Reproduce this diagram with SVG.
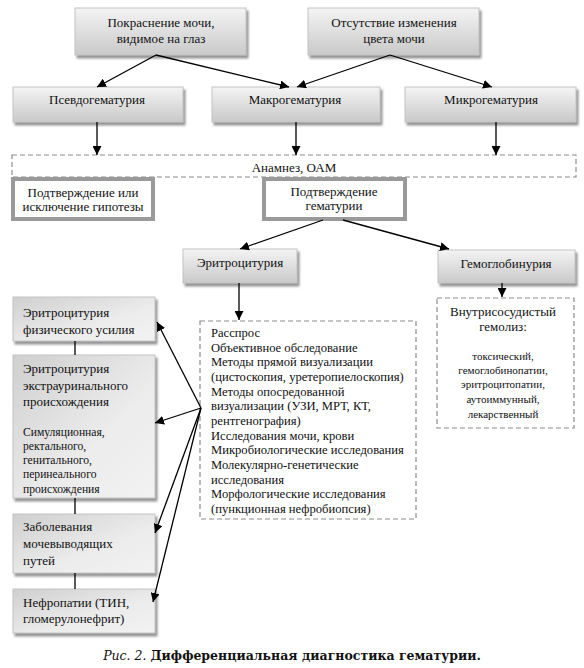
<svg xmlns="http://www.w3.org/2000/svg" width="584" height="668" viewBox="0 0 584 668">
<defs>
<linearGradient id="gv" x1="0" y1="0" x2="0" y2="1">
<stop offset="0" stop-color="#f4f4f4"/>
<stop offset="1" stop-color="#c9c9c9"/>
</linearGradient>
<linearGradient id="gd" x1="0" y1="0" x2="1" y2="1">
<stop offset="0" stop-color="#cfcfcf"/>
<stop offset="0.6" stop-color="#ececec"/>
<stop offset="1" stop-color="#f2f2f2"/>
</linearGradient>
<filter id="sh" x="-10%" y="-10%" width="130%" height="140%">
<feDropShadow dx="2" dy="3" stdDeviation="1.2" flood-color="#7a7a7a" flood-opacity="0.8"/>
</filter>
<marker id="ah" viewBox="0 0 10 10" refX="10" refY="5" markerWidth="9" markerHeight="9" markerUnits="userSpaceOnUse" orient="auto">
<path d="M0,0 L10,5 L0,10 z" fill="#000"/>
</marker>
</defs>
<style>
.g{fill:url(#gv);stroke:#c4c4c4;stroke-width:1;filter:url(#sh)}
.gl{fill:url(#gd);stroke:#c4c4c4;stroke-width:1;filter:url(#sh)}
.dash{fill:#fff;stroke:#8c8c8c;stroke-width:1.2;stroke-dasharray:5,3}
.thick{fill:#fff;stroke:#9a9a9a;stroke-width:4}
text{fill:#111}
.t{font-size:13px}
.tm{font-size:12.6px}
.s{font-size:11.6px}
.xs{font-size:11px}
.m{text-anchor:middle}
.c{stroke:#000;stroke-width:1.3;fill:none}
.ca{stroke:#000;stroke-width:1.3;fill:none;marker-end:url(#ah)}
</style>
<rect width="584" height="668" fill="#fff"/>
<g font-family="Liberation Serif, Times New Roman, serif">
<g id="n-pokrasnenie">
<rect class="g" x="75" y="8" width="171" height="47"/>
<text class="t m" x="161" y="27">Покраснение мочи,</text>
<text class="t m" x="161" y="43">видимое на глаз</text>
</g>
<g id="n-otsutstvie">
<rect class="g" x="308" y="8" width="171" height="47"/>
<text class="t m" x="394" y="27">Отсутствие изменения</text>
<text class="t m" x="394" y="43">цвета мочи</text>
</g>
<g id="n-psevdo">
<rect class="g" x="13" y="87" width="170" height="35"/>
<text class="t m" x="97" y="104">Псевдогематурия</text>
</g>
<g id="n-makro">
<rect class="g" x="212" y="87" width="168" height="35"/>
<text class="t m" x="295" y="104">Макрогематурия</text>
</g>
<g id="n-mikro">
<rect class="g" x="405" y="87" width="171" height="35"/>
<text class="t m" x="491" y="104">Микрогематурия</text>
</g>
<g id="n-anamnez">
<rect class="dash" x="12" y="155" width="564" height="22"/>
<text class="t m" x="294" y="172">Анамнез, ОАМ</text>
</g>
<g id="n-gipoteza">
<rect class="thick" x="13" y="179" width="140" height="40"/>
<text class="t m" x="83" y="197">Подтверждение или</text>
<text class="t m" x="83" y="211">исключение гипотезы</text>
</g>
<g id="n-podtv">
<rect class="thick" x="264" y="179" width="141" height="40"/>
<text class="t m" x="334" y="196">Подтверждение</text>
<text class="t m" x="334" y="210">гематурии</text>
</g>
<g id="n-eritro">
<rect class="g" x="183" y="249" width="114" height="34"/>
<text class="t m" x="240" y="267">Эритроцитурия</text>
</g>
<g id="n-gemoglob">
<rect class="g" x="438" y="250" width="137" height="33"/>
<text class="t m" x="506" y="268">Гемоглобинурия</text>
</g>
<g id="n-fiz">
<rect class="gl" x="13" y="297" width="142" height="44"/>
<text class="t" x="23" y="317">Эритроцитурия</text>
<text class="t" x="23" y="334">физического усилия</text>
</g>
<g id="n-ekstra">
<rect class="gl" x="13" y="355" width="142" height="143"/>
<text class="t" x="23" y="373">Эритроцитурия</text>
<text class="t" x="23" y="390">экстрауринального</text>
<text class="t" x="23" y="406">происхождения</text>
<text class="s" x="23" y="436">Симуляционная,</text>
<text class="s" x="23" y="450">ректального,</text>
<text class="s" x="23" y="464">генитального,</text>
<text class="s" x="23" y="478">перинеального</text>
<text class="s" x="23" y="493">происхождения</text>
</g>
<g id="n-zabol">
<rect class="gl" x="13" y="514" width="142" height="59"/>
<text class="t" x="23" y="531">Заболевания</text>
<text class="t" x="23" y="548">мочевыводящих</text>
<text class="t" x="23" y="565">путей</text>
</g>
<g id="n-nefro">
<rect class="gl" x="13" y="589" width="142" height="44"/>
<text class="t" x="23" y="607">Нефропатии (ТИН,</text>
<text class="t" x="23" y="623">гломерулонефрит)</text>
</g>
<g id="n-metody">
<rect class="dash" x="200" y="321" width="216" height="198"/>
<text class="tm" x="211" y="337">Расспрос</text>
<text class="tm" x="211" y="351.7">Объективное обследование</text>
<text class="tm" x="211" y="366.3">Методы прямой визуализации</text>
<text class="tm" x="211" y="381">(цистоскопия, уретеропиелоскопия)</text>
<text class="tm" x="211" y="395.7">Методы опосредованной</text>
<text class="tm" x="211" y="410.3">визуализации (УЗИ, МРТ, КТ,</text>
<text class="tm" x="211" y="425">рентгенография)</text>
<text class="tm" x="211" y="439.7">Исследования мочи, крови</text>
<text class="tm" x="211" y="454.3">Микробиологические исследования</text>
<text class="tm" x="211" y="469">Молекулярно-генетические</text>
<text class="tm" x="211" y="483.7">исследования</text>
<text class="tm" x="211" y="498.3">Морфологические исследования</text>
<text class="tm" x="211" y="513">(пункционная нефробиопсия)</text>
</g>
<g id="n-gemoliz">
<rect class="dash" x="437" y="298" width="137" height="130"/>
<text class="t m" x="503" y="316">Внутрисосудистый</text>
<text class="t m" x="503" y="331">гемолиз:</text>
<text class="xs m" x="503" y="360">токсический,</text>
<text class="xs m" x="503" y="374">гемоглобинопатии,</text>
<text class="xs m" x="503" y="388">эритроцитопатии,</text>
<text class="xs m" x="503" y="403">аутоиммунный,</text>
<text class="xs m" x="503" y="418">лекарственный</text>
</g>
</g>
<g id="connectors">
<line class="ca" x1="156" y1="55" x2="97" y2="87"/>
<line class="ca" x1="156" y1="55" x2="289" y2="87"/>
<line class="ca" x1="390" y1="55" x2="297" y2="87"/>
<line class="ca" x1="390" y1="55" x2="492" y2="87"/>
<line class="ca" x1="97" y1="122" x2="97" y2="155"/>
<line class="ca" x1="296" y1="122" x2="296" y2="155"/>
<line class="ca" x1="496" y1="122" x2="496" y2="155"/>
<line class="ca" x1="323" y1="220" x2="240" y2="249"/>
<line class="ca" x1="343" y1="220" x2="449" y2="249"/>
<line class="ca" x1="239" y1="283" x2="239" y2="320"/>
<line class="ca" x1="502" y1="283" x2="502" y2="297"/>
<line class="c" x1="75" y1="341" x2="75" y2="355"/>
<line class="c" x1="75" y1="498" x2="75" y2="514"/>
<line class="c" x1="75" y1="573" x2="75" y2="589"/>
<line class="ca" x1="201" y1="408" x2="157" y2="322"/>
<line class="ca" x1="201" y1="408" x2="155" y2="423"/>
<line class="ca" x1="201" y1="408" x2="155" y2="533"/>
<line class="ca" x1="201" y1="408" x2="153" y2="602"/>
</g>
<g id="caption">
<text x="292" y="660" text-anchor="middle" font-family="DejaVu Serif, serif" font-size="12.5"><tspan font-style="italic">Рис. 2.</tspan> <tspan font-weight="bold">Дифференциальная диагностика гематурии.</tspan></text>
</g>
</svg>
